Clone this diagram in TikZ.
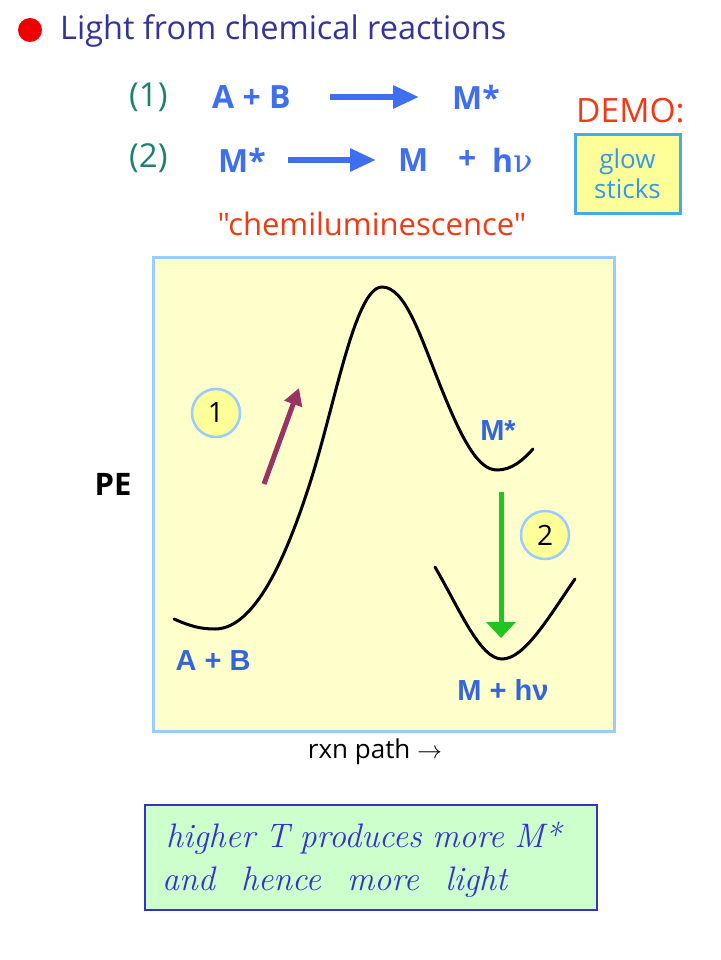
\documentclass[tikz,border=0pt]{standalone}
\usepackage{fontspec}
\newfontfamily\comic{Open Sans}
\newfontfamily\labfont{Liberation Sans}
\newfontfamily\nufont{DejaVu Serif}
\usetikzlibrary{arrows.meta}
\definecolor{titleblue}{HTML}{333399}
\definecolor{dotred}{HTML}{EE0000}
\definecolor{eqblue}{HTML}{3F6FEE}
\definecolor{tealnum}{HTML}{1F8070}
\definecolor{demored}{HTML}{F03A14}
\definecolor{glowtext}{HTML}{3399EE}
\definecolor{glowborder}{HTML}{44AAEE}
\definecolor{glowfill}{HTML}{FFFF99}
\definecolor{panelfill}{HTML}{FFFFCC}
\definecolor{panelborder}{HTML}{99CCFF}
\definecolor{labblue}{HTML}{3366DD}
\definecolor{purplearrow}{HTML}{993366}
\definecolor{greenarrow}{HTML}{22C422}
\definecolor{notefill}{HTML}{CCFFCC}
\definecolor{noteblue}{HTML}{3333CC}
\begin{document}
\begin{tikzpicture}[x=1pt,y=-1pt,
  eqtext/.style={text=eqblue, font=\comic\bfseries\fontsize{32}{38}\selectfont, inner sep=0pt, anchor=west},
  numtext/.style={text=tealnum, font=\comic\fontsize{33}{38}\selectfont, inner sep=0pt, anchor=west},
  labtext/.style={text=labblue, font=\labfont\bfseries\fontsize{29}{32}\selectfont, inner sep=0pt},
  badge/.style={circle, draw=panelborder, line width=2.5pt, fill=glowfill, minimum size=48pt, inner sep=0pt, font=\comic\fontsize{28}{30}\selectfont},
  eqarrow/.style={draw=eqblue, line width=6pt, -{Triangle[length=26pt,width=22pt]}},
  curve/.style={draw=black, line width=3pt, line cap=round},
  handtext/.style={text=noteblue, font=\itshape\fontsize{34}{40}\selectfont, inner sep=0pt, anchor=west}
]
\useasboundingbox (0,0) rectangle (720,960);

% title
\node[circle, fill=dotred, minimum size=24pt, inner sep=0pt] (dot) at (30,30) {};
\node[text=titleblue, font=\comic\fontsize{32.5}{36}\selectfont, inner sep=0pt, anchor=west] (title) at (60,31) {Light from chemical reactions};

% equations
\node[numtext] (n1) at (129,97) {(1)};
\node[eqtext] (ab) at (212,97) {A + B};
\coordinate (a1s) at (330,97);
\coordinate (a1e) at (419,97);
\draw[eqarrow] (a1s) -- (a1e);
\node[eqtext] (ms1) at (452,97) {M*};

\node[numtext] (n2) at (129,158) {(2)};
\node[eqtext] (ms2) at (218,160) {M*};
\coordinate (a2s) at (288,160);
\coordinate (a2e) at (376,160);
\draw[eqarrow] (a2s) -- (a2e);
\node[eqtext] (mm) at (398,160) {M};
\node[eqtext] (plus) at (458,160) {+};
\node[eqtext] (hnu) at (492,160) {h{\nufont\mdseries ν}};

\node[text=demored, font=\comic\fontsize{33.5}{36}\selectfont, inner sep=0pt, anchor=west] (demo) at (576,111) {DEMO:};
\node[draw=glowborder, line width=3pt, fill=glowfill, minimum width=105pt, minimum height=78pt, text=glowtext, align=center, font=\comic\fontsize{26}{30}\selectfont] (glow) at (627.5,174) {glow\\sticks};

\node[text=demored, font=\comic\fontsize{31}{34}\selectfont, inner sep=0pt] (chemi) at (372,224) {"chemiluminescence"};

% energy diagram
\node[draw=panelborder, fill=panelfill, line width=3pt, minimum width=461pt, minimum height=474pt, inner sep=0pt] (panel) at (383.5,494) {};

\draw[curve] (174,619) .. controls (190,626) and (200,629) .. (215,629)
  .. controls (258,629) and (290,545) .. (310,483)
  .. controls (335,405) and (355,287) .. (382,287)
  .. controls (405,287) and (420,335) .. (440,385)
  .. controls (462,440) and (478,470) .. (497,470)
  .. controls (512,470) and (523,460) .. (533,449);
\draw[curve] (435,567) .. controls (460,610) and (480,659) .. (502,659)
  .. controls (525,659) and (550,615) .. (575,579);

\coordinate (p1s) at (264,484);
\coordinate (p1e) at (299,388);
\draw[draw=purplearrow, line width=5pt, -{Triangle[length=17pt,width=18pt]}] (p1s) -- (p1e);
\coordinate (g1s) at (501,492);
\coordinate (g1e) at (501,638);
\draw[draw=greenarrow, line width=5pt, -{Triangle[length=16pt,width=29pt]}] (g1s) -- (g1e);

\node[badge] (b1) at (216,413) {1};
\node[badge] (b2) at (545,535) {2};

\node[labtext] (mstar) at (498,431) {M*};
\node[labtext] (abl) at (213,661) {A + B};
\node[labtext] (mhnu) at (503,690) {M + hν};

\node[font=\comic\bfseries\fontsize{31}{34}\selectfont, inner sep=0pt] (pe) at (113,484) {PE};
\node[font=\comic\fontsize{26}{30}\selectfont, inner sep=0pt] (rxn) at (375,752) {rxn path $\rightarrow$};

% note
\node[draw=noteblue, fill=notefill, line width=1.5pt, minimum width=452pt, minimum height=105pt, inner sep=0pt] (note) at (371,857.5) {};
\node[handtext] (h1) at (166,838) {\makebox[395pt][s]{higher T produces more M*}};
\node[handtext] (h2) at (162,882) {\makebox[345pt][s]{and hence more light}};
\end{tikzpicture}
\end{document}
